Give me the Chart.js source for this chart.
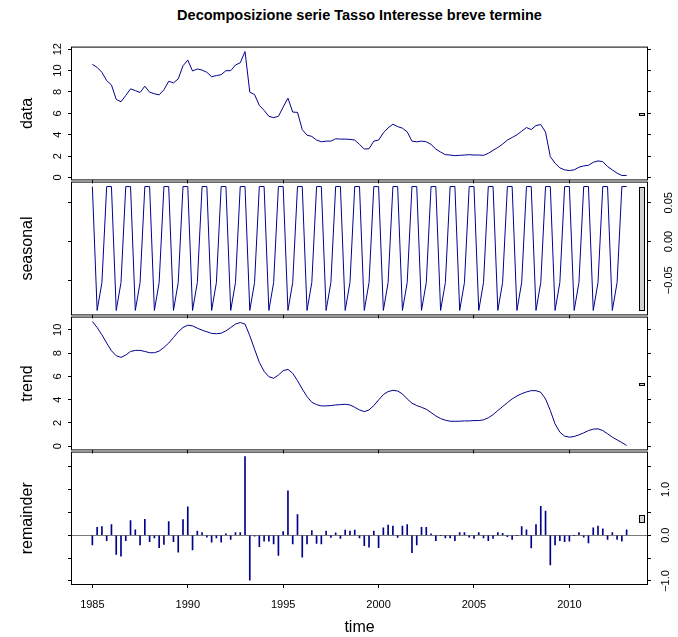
<!DOCTYPE html>
<html lang="it">
<head>
<meta charset="utf-8">
<title>Decomposizione serie Tasso Interesse breve termine</title>
<script src="https://cdn.jsdelivr.net/npm/chart.js"></script>
<style>
    body { margin: 0; background: #fff; }
    #wrap { position: relative; width: 678px; height: 637px; overflow: hidden;
            font-family: "Liberation Sans", Arial, Helvetica, sans-serif; }
    #wrap canvas { position: absolute; left: 0; }
    #main { position: absolute; left: 60px; width: 599px; top: 8px; text-align: center;
            font-weight: bold; font-size: 14.5px; line-height: 14px; color: #000; }
</style>
</head>
<body>
<div id="wrap">
    <div id="main"></div>
    <canvas id="pData" width="678" height="155" style="top:36px"></canvas>
    <canvas id="pSeasonal" width="678" height="155" style="top:171px"></canvas>
    <canvas id="pTrend" width="678" height="155" style="top:306px"></canvas>
    <canvas id="pRemainder" width="678" height="196" style="top:441px"></canvas>
</div>

<script>
    // quarterly series, 1985 Q1 .. 2013 Q1
    const startYear = 1985;
    const freq = 4;
    const mainTitle = 'Decomposizione serie Tasso Interesse breve termine';
    const panelNames = ['data', 'seasonal', 'trend', 'remainder'];
    const xTitle = 'time';

    const dataValues = [
        10.58, 10.30, 9.84, 9.06, 8.66, 7.30, 7.08, 7.67,
        8.29, 8.13, 7.95, 8.54, 7.98, 7.83, 7.73, 8.20,
        9.00, 8.85, 9.22, 10.45, 10.98, 9.96, 10.15, 10.05,
        9.84, 9.43, 9.53, 9.62, 9.99, 9.99, 10.52, 10.73,
        11.78, 7.98, 7.76, 6.74, 6.28, 5.72, 5.60, 5.72,
        6.59, 7.42, 6.12, 6.09, 4.48, 3.96, 3.84, 3.50,
        3.34, 3.40, 3.40, 3.62, 3.59, 3.59, 3.56, 3.50,
        3.09, 2.66, 2.69, 3.40, 3.50, 4.18, 4.64, 4.98,
        4.76, 4.61, 4.27, 3.40, 3.34, 3.40, 3.34, 3.09,
        2.66, 2.38, 2.13, 2.10, 2.04, 2.07, 2.10, 2.13,
        2.10, 2.10, 2.07, 2.26, 2.54, 2.81, 3.12, 3.50,
        3.74, 3.99, 4.33, 4.67, 4.48, 4.86, 4.95, 4.24,
        1.95, 1.33, 0.90, 0.71, 0.65, 0.71, 0.96, 1.08,
        1.14, 1.42, 1.55, 1.48, 1.02, 0.71, 0.40, 0.19,
        0.19
    ];

    // seasonal component (periodic), one value per quarter
    const seasonalQuarter = [0.071, -0.089, -0.053, 0.071];

    const trendValues = [
        10.71, 10.20, 9.57, 8.86, 8.20, 7.77, 7.63, 7.83,
        8.14, 8.23, 8.23, 8.14, 8.03, 8.03, 8.17, 8.49,
        8.86, 9.34, 9.83, 10.20, 10.40, 10.34, 10.14, 9.97,
        9.83, 9.69, 9.66, 9.71, 9.91, 10.20, 10.49, 10.63,
        10.49, 9.49, 8.34, 7.20, 6.43, 5.97, 5.83, 6.11,
        6.49, 6.60, 6.26, 5.63, 4.91, 4.26, 3.77, 3.57,
        3.46, 3.46, 3.49, 3.54, 3.57, 3.60, 3.54, 3.34,
        3.11, 2.97, 3.11, 3.49, 3.97, 4.43, 4.69, 4.80,
        4.74, 4.49, 4.06, 3.69, 3.49, 3.34, 3.17, 2.89,
        2.60, 2.37, 2.23, 2.14, 2.14, 2.14, 2.17, 2.17,
        2.20, 2.20, 2.26, 2.43, 2.71, 3.06, 3.40, 3.74,
        4.06, 4.31, 4.51, 4.66, 4.77, 4.77, 4.63, 4.06,
        3.06, 1.91, 1.20, 0.86, 0.77, 0.83, 0.97, 1.14,
        1.34, 1.46, 1.49, 1.34, 1.06, 0.77, 0.54, 0.31,
        0.06
    ];

    const remainderValues = [
        -0.21, 0.17, 0.19, -0.12, 0.23, -0.42, -0.46, -0.12,
        0.32, 0.12, -0.21, 0.35, -0.14, -0.06, -0.27, -0.20,
        0.30, -0.14, -0.37, 0.34, 0.62, -0.32, 0.09, 0.06,
        -0.04, -0.15, -0.06, -0.15, 0.03, -0.09, 0.06, 0.06,
        1.72, -0.98, -0.02, -0.25, -0.13, -0.13, -0.19, -0.44,
        0.08, 0.97, -0.19, 0.45, -0.48, -0.19, 0.10, -0.18,
        -0.19, 0.09, -0.05, 0.05, -0.07, 0.11, 0.09, 0.11,
        -0.06, -0.23, -0.26, 0.09, -0.27, 0.16, 0.22, 0.20,
        -0.05, 0.20, 0.23, -0.38, -0.21, 0.17, 0.17, 0.03,
        -0.12, -0.01, -0.06, -0.06, -0.12, 0.06, 0.06, -0.04,
        -0.07, 0.06, -0.06, -0.12, -0.07, 0.06, 0.04, -0.03,
        -0.09, -0.01, 0.19, 0.12, -0.28, 0.23, 0.63, 0.53,
        -0.65, -0.21, -0.12, -0.14, -0.13, -0.01, 0.06, -0.04,
        -0.17, 0.16, 0.20, 0.14, -0.09, 0.06, -0.09, -0.13,
        0.12
    ];

    const xTicks = [1985, 1990, 1995, 2000, 2005, 2010];
    const dataTicks = [0, 2, 4, 6, 8, 10, 12];
    const seasonalTicks = [-0.05, 0, 0.05];
    const trendTicks = [0, 2, 4, 6, 8, 10];
    const remainderTicks = [-1, -0.5, 0, 0.5, 1, 1.5];
    const remainderLabelled = [-1, 0, 1];

    const times = dataValues.map((_, i) => startYear + i / freq);
    const seasonalValues = times.map((_, i) => seasonalQuarter[i % freq]);

    const FONT = '"Liberation Sans", Arial, Helvetica, sans-serif';
    const LINE = '#00008B';
    Chart.defaults.font.family = FONT;
    Chart.defaults.color = '#000';

    document.getElementById('main').textContent = mainTitle;

    // R style axis limits: data range widened by 4% each side
    function usr(values) {
        const lo = Math.min(...values), hi = Math.max(...values);
        const d = 0.04 * (hi - lo);
        return [lo - d, hi + d];
    }
    const xLim = usr(times);
    const allSeries = [dataValues, seasonalValues, trendValues, remainderValues];
    const barSize = Math.min(...allSeries.map(s => Math.max(...s) - Math.min(...s)));

    const minus = s => s.replace('-', '\u2212');

    function xAxis(last) {
        return {
            type: 'linear', min: xLim[0], max: xLim[1], offset: false,
            afterBuildTicks: s => { s.ticks = xTicks.map(v => ({value: v})); },
            afterFit: s => { s.height = last ? 52 : 10; },
            grid: {drawOnChartArea: false, tickLength: 3, tickColor: '#000', offset: false},
            border: {display: false},
            ticks: {display: last, autoSkip: false, maxRotation: 0, padding: 10,
                    font: {size: 11}, callback: v => String(v)},
            title: {display: last, text: xTitle, font: {size: 16}, padding: {top: 0, bottom: 0}}
        };
    }

    function yAxis(position, labels, lim, tickVals, fmt, name, zeroLine) {
        return {
            type: 'linear', position: position, min: lim[0], max: lim[1],
            afterBuildTicks: s => { s.ticks = tickVals.map(v => ({value: v})); },
            afterFit: s => { s.width = position === 'left' ? 71 : 30; },
            grid: {
                drawOnChartArea: !!zeroLine, tickLength: 3, tickColor: '#000',
                color: ctx => (zeroLine && ctx.tick && ctx.tick.value === 0) ? '#7a7a7a' : 'rgba(0,0,0,0)'
            },
            border: {display: false},
            ticks: {display: labels, autoSkip: false, minRotation: 90, maxRotation: 90,
                    crossAlign: 'center', padding: 4, font: {size: 11}, callback: fmt},
            title: {display: position === 'left', text: name, font: {size: 16},
                    padding: {top: 18, bottom: 0}}
        };
    }

    // range bar on the right (same height in data units in every panel) and the panel box
    function stlFrame(series) {
        return {
            id: 'stlFrame',
            afterDatasetsDraw(chart) {
                const {ctx, chartArea: a, scales: {x, y}} = chart;
                const mid = (Math.min(...series) + Math.max(...series)) / 2;
                const dx = (x.max - x.min) / 64;
                const l = Math.round(x.getPixelForValue(x.max - dx)) + 0.5;
                const r = Math.round(x.getPixelForValue(x.max - 0.4 * dx)) + 0.5;
                const t = Math.round(y.getPixelForValue(mid + barSize / 2)) + 0.5;
                const b = Math.max(Math.round(y.getPixelForValue(mid - barSize / 2)) + 0.5, t + 2);
                ctx.save();
                ctx.lineWidth = 1;
                ctx.strokeStyle = '#000';
                ctx.fillStyle = '#d3d3d3';
                ctx.fillRect(l, t, r - l, b - t);
                ctx.strokeRect(l, t, r - l, b - t);
                ctx.strokeRect(a.left + 0.5, a.top + 0.5, a.width - 1, a.height - 1);
                ctx.restore();
            }
        };
    }

    function panel(id, type, series, labelsLeft, tickVals, fmt, name, last) {
        const lim = usr(series);
        const pts = times.map((t, i) => ({x: t, y: series[i]}));
        const ds = type === 'bar'
            ? {data: pts, backgroundColor: LINE, borderWidth: 0, barThickness: 1}
            : {data: pts, borderColor: LINE, borderWidth: 1, pointRadius: 0, tension: 0, fill: false};
        new Chart(document.getElementById(id), {
            type: type,
            data: {datasets: [ds]},
            options: {
                responsive: false, maintainAspectRatio: false, animation: false, events: [],
                layout: {padding: {top: 10, left: 0, right: 0, bottom: 0}},
                plugins: {legend: {display: false}, tooltip: {enabled: false}},
                scales: {
                    x: xAxis(last),
                    y: yAxis('left', labelsLeft, lim, tickVals, fmt, name, type === 'bar'),
                    y2: yAxis('right', !labelsLeft, lim, tickVals, fmt, name, false)
                }
            },
            plugins: [stlFrame(series)]
        });
    }

    panel('pData', 'line', dataValues, true, dataTicks, v => String(v), panelNames[0], false);
    panel('pSeasonal', 'line', seasonalValues, false, seasonalTicks, v => minus(v.toFixed(2)), panelNames[1], false);
    panel('pTrend', 'line', trendValues, true, trendTicks, v => String(v), panelNames[2], false);
    panel('pRemainder', 'bar', remainderValues, false, remainderTicks,
        v => remainderLabelled.includes(v) ? minus(v.toFixed(1)) : '', panelNames[3], true);
</script>
</body>
</html>
